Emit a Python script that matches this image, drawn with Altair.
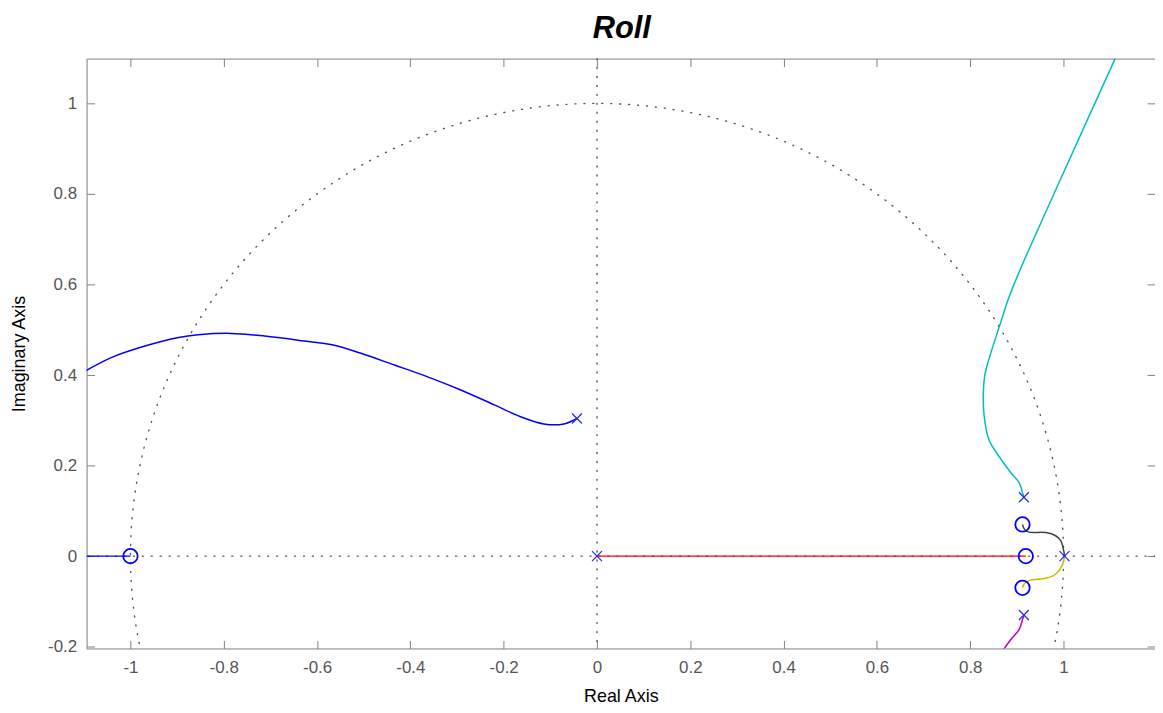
import altair as alt
import pandas as pd

# ---------------- data ----------------
title_text = ["Roll"]
x_ticks = [-1, -0.8, -0.6, -0.4, -0.2, 0, 0.2, 0.4, 0.6, 0.8, 1]
y_ticks = [-0.2, 0, 0.2, 0.4, 0.6, 0.8, 1]

blue_upper_x = [-1.1, -1.040, -0.969, -0.897, -0.855, -0.784, -0.712, -0.627, -0.563,
                -0.506, -0.434, -0.363, -0.292, -0.220, -0.164, -0.114, -0.071, -0.043]
blue_upper_y = [0.407, 0.439, 0.464, 0.483, 0.489, 0.492, 0.486, 0.475, 0.466,
                0.448, 0.422, 0.396, 0.367, 0.334, 0.308, 0.292, 0.292, 0.304]

blue_real_x = [-1.1, -1.0]
blue_real_y = [0.0, 0.0]

red_x = [0.0, 0.919]
red_y = [0.0, 0.0]

cyan_x = [0.915, 0.912, 0.905, 0.887, 0.862, 0.840, 0.830, 0.828, 0.832, 0.846,
          0.862, 0.883, 0.912, 0.944, 0.992, 1.111]
cyan_y = [0.130, 0.140, 0.162, 0.184, 0.220, 0.257, 0.308, 0.360, 0.404, 0.455,
          0.506, 0.572, 0.645, 0.719, 0.829, 1.100]

magenta_x = [0.915, 0.912, 0.905, 0.887, 0.862]
magenta_y = [-0.130, -0.140, -0.162, -0.184, -0.220]

black_x = [0.912, 0.917, 0.926, 0.962, 0.983, 0.994, 1.001, 1.002]
black_y = [0.070, 0.058, 0.053, 0.052, 0.045, 0.034, 0.008, 0.0]

yellow_x = [0.912, 0.915, 0.926, 0.962, 0.983, 0.997, 1.002]
yellow_y = [-0.070, -0.062, -0.054, -0.049, -0.040, -0.021, 0.0]

pole_x = [-0.043, 0.0, 0.915, 0.915, 1.002]
pole_y = [0.304, 0.0, 0.130, -0.130, 0.0]

zero_x = [-1.0, 0.912, 0.919, 0.912]
zero_y = [0.0, 0.070, 0.0, -0.070]

branch_names = ["blue_upper", "blue_real", "red", "cyan", "magenta", "black", "yellow"]
branch_colors = ["#0000ff", "#0000ff", "#ff0000", "#00bfbf", "#bf00bf", "#404040", "#bfbf00"]
branch_data = [(blue_upper_x, blue_upper_y), (blue_real_x, blue_real_y), (red_x, red_y),
               (cyan_x, cyan_y), (magenta_x, magenta_y), (black_x, black_y),
               (yellow_x, yellow_y)]

rows = []
for name, (xs_, ys_) in zip(branch_names, branch_data):
    for i, (a, b) in enumerate(zip(xs_, ys_)):
        rows.append({"branch": name, "i": i, "x": a, "y": b})
loci = pd.DataFrame(rows)
poles = pd.DataFrame({"x": pole_x, "y": pole_y})
zeros = pd.DataFrame({"x": zero_x, "y": zero_y})
origin = pd.DataFrame({"x": [0.0], "y": [0.0]})
title_df = pd.DataFrame({"t": title_text})

# ---------------- chart ----------------
FONT = "Liberation Sans"
W, H = 1074, 593
xs = alt.Scale(domain=[-1.094, 1.196], nice=False, zero=False)
ys = alt.Scale(domain=[-0.204, 1.099], nice=False, zero=False)
label_expr = "'' + round(datum.value * 10) / 10"

x_bottom = alt.Axis(orient="bottom", values=x_ticks, offset=-8, tickSize=8, domain=False,
                    grid=False, labelExpr=label_expr, title="Real Axis",
                    titleX=W / 2, titleY=56, titleBaseline="middle", labelPadding=11)
y_left = alt.Axis(orient="left", values=y_ticks, offset=-8, tickSize=8, domain=False,
                  grid=False, labelExpr=label_expr, title="Imaginary Axis",
                  titleX=-75, titleY=H / 2, titleAngle=-90, titleBaseline="middle",
                  titleAlign="center", labelPadding=10)
x_top = alt.Axis(orient="top", values=x_ticks, offset=-8, tickSize=8, domain=False,
                 grid=False, labels=False, title=None)
y_right = alt.Axis(orient="right", values=y_ticks, offset=-8, tickSize=8, domain=False,
                   grid=False, labels=False, title=None)

dot_style = dict(color="#555555", strokeWidth=1.4, strokeDash=[1, 8], strokeCap="round")

circle = (
    alt.Chart(alt.sequence(0, 6.30, 0.01, as_="t"))
    .transform_calculate(cx="cos(datum.t)", cy="sin(datum.t)")
    .mark_line(clip=True, **dot_style)
    .encode(x=alt.X("cx:Q", scale=xs, axis=None),
            y=alt.Y("cy:Q", scale=ys, axis=None),
            order="t:Q")
)

vline = alt.Chart(origin).mark_rule(**dot_style).encode(x=alt.X("x:Q", scale=xs, axis=None))
hline = alt.Chart(origin).mark_rule(**dot_style).encode(y=alt.Y("y:Q", scale=ys, axis=None))

lines = (
    alt.Chart(loci)
    .mark_line(clip=True, strokeWidth=1.5, interpolate="catmull-rom")
    .encode(
        x=alt.X("x:Q", scale=xs, axis=x_bottom),
        y=alt.Y("y:Q", scale=ys, axis=y_left),
        color=alt.Color("branch:N", scale=alt.Scale(domain=branch_names, range=branch_colors),
                        legend=None),
        detail="branch:N",
        order="i:Q",
    )
)

pole_marks = (
    alt.Chart(poles)
    .mark_point(shape="M-1,-1L1,1M1,-1L-1,1", size=100, filled=False, color="#2a2aff",
                strokeWidth=1.3, opacity=1)
    .encode(x=alt.X("x:Q", scale=xs, axis=None), y=alt.Y("y:Q", scale=ys, axis=None))
)

zero_marks = (
    alt.Chart(zeros)
    .mark_point(shape="circle", size=210, filled=False, color="#0000ff",
                strokeWidth=1.8, opacity=1)
    .encode(x=alt.X("x:Q", scale=xs, axis=x_top), y=alt.Y("y:Q", scale=ys, axis=y_right))
)

title_mark = (
    alt.Chart(title_df)
    .mark_text(font=FONT, fontSize=31, fontStyle="italic", fontWeight="bold",
               color="#000000", align="center", baseline="alphabetic")
    .encode(text="t:N", x=alt.value(W / 2 + 1), y=alt.value(-21))
)

chart = (
    alt.layer(circle, vline, hline, lines, pole_marks, zero_marks, title_mark)
    .resolve_axis(x="independent", y="independent")
    .properties(
        width=W, height=H,
        autosize=alt.AutoSizeParams(type="none"),
        padding={"left": 79, "top": 49, "right": 0, "bottom": 60},
        background="#ffffff",
    )
    .configure_view(stroke="#808080", strokeWidth=1)
    .configure_axis(
        tickColor="#808080", tickWidth=1, labelColor="#555555", labelFont=FONT,
        labelFontSize=17, titleFont=FONT, titleFontSize=18, titleFontWeight="normal",
        titleColor="#000000",
    )
)

chart.save("out.html", embed_options={"renderer": "svg", "actions": False})
